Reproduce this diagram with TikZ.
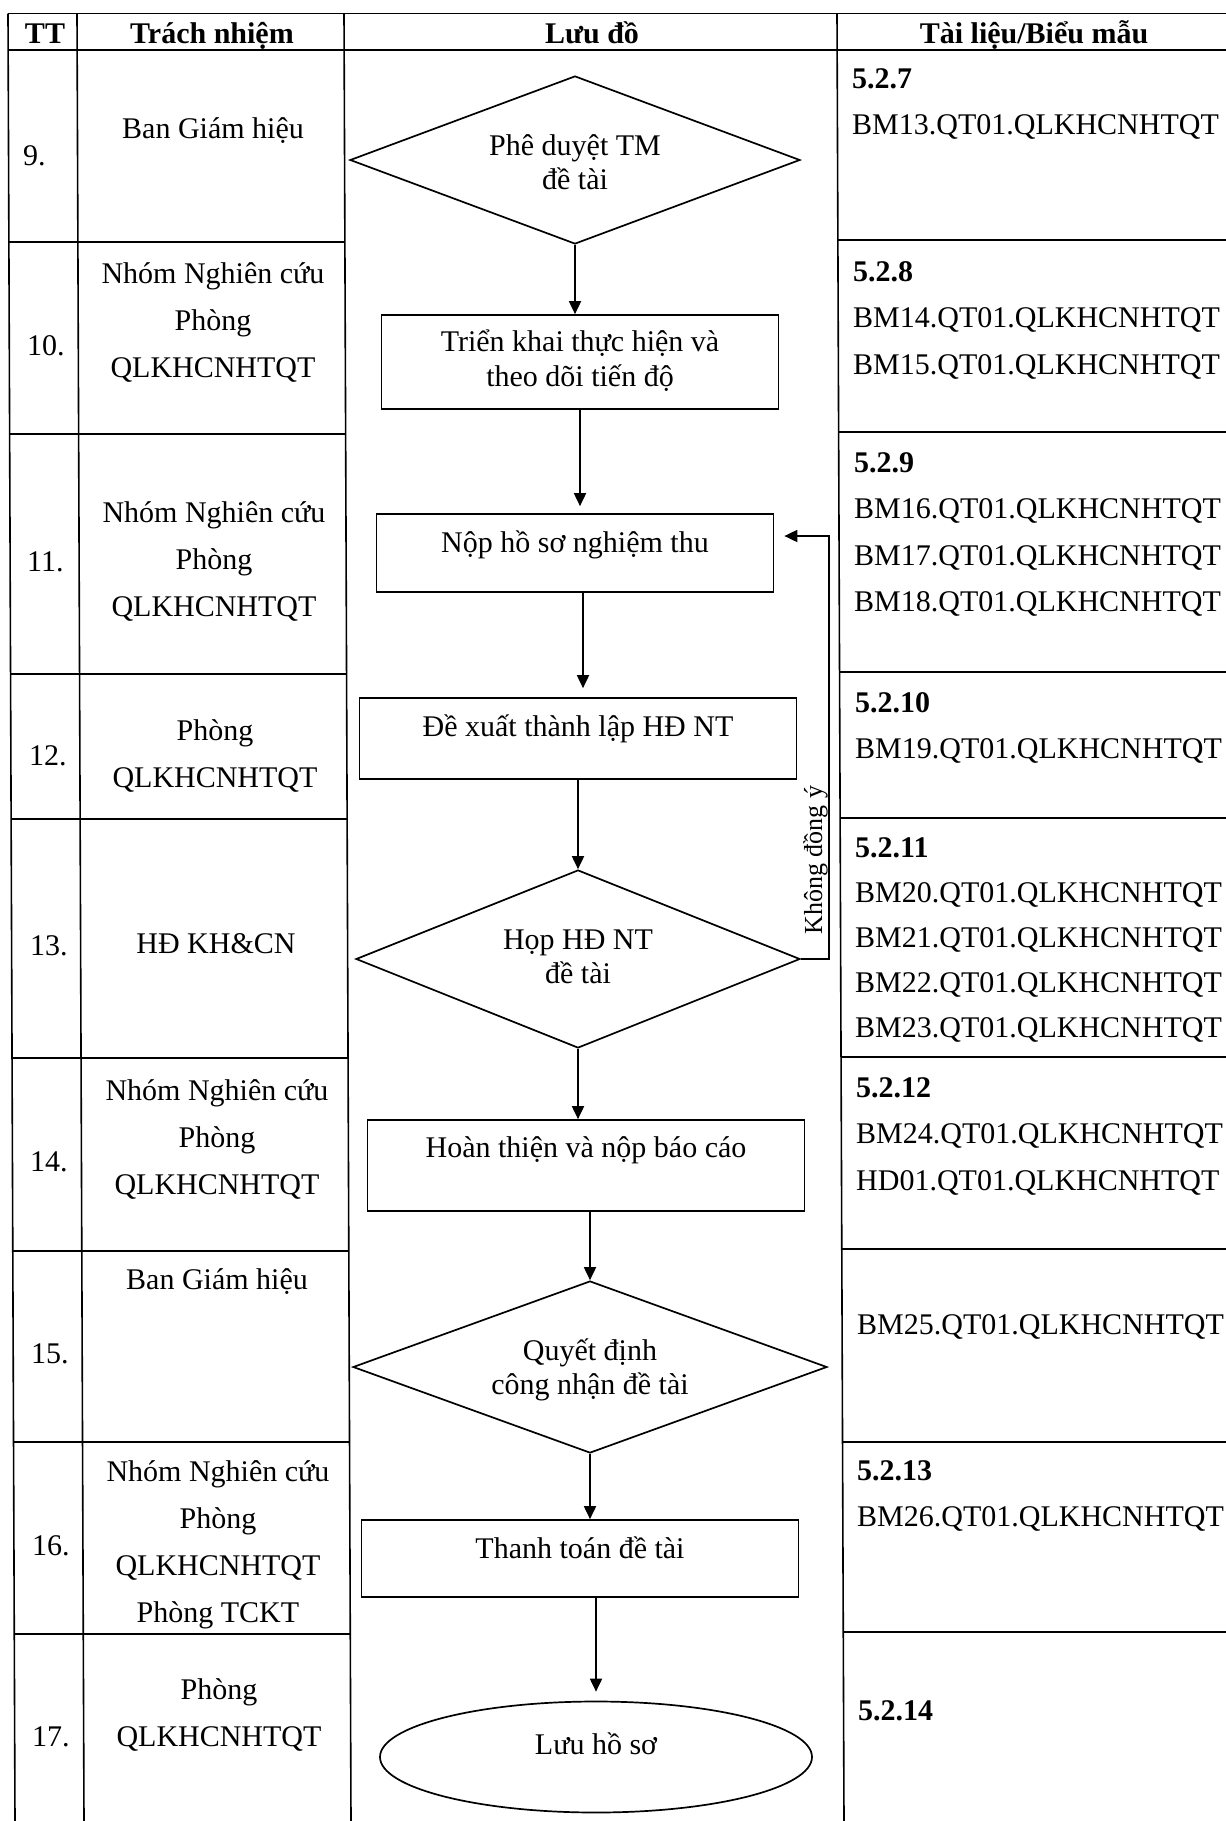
\documentclass[tikz,border=0pt]{standalone}
\usepackage{fontspec}
\setmainfont{Liberation Serif}
\usetikzlibrary{shapes.geometric,arrows.meta}
\newcommand\mlines[1]{\begin{tabular}[t]{@{}c@{}}#1\end{tabular}}
\newcommand\llines[1]{\begin{tabular}[t]{@{}l@{}}#1\end{tabular}}
\begin{document}
\begin{tikzpicture}[x=1pt,y=-1pt,
  every node/.style={font=\fontsize{30}{34}\selectfont, inner sep=0pt},
  grid/.style={line width=1.6pt, black},
  shp/.style={draw, line width=1.7pt, inner sep=0pt, text height=20pt},
  rbox/.style={shp, rectangle},
  dbox/.style={shp, diamond, aspect=2.7},
  ebox/.style={shp, ellipse},
  arr/.style={line width=1.8pt, -{Triangle[length=13pt,width=12pt]}},
  num/.style={anchor=base west},
  resp/.style={anchor=base, font=\fontsize{30}{47}\selectfont},
  doc/.style={anchor=base west, font=\fontsize{30}{46.5}\selectfont},
  hdr/.style={anchor=base, font=\fontsize{30}{34}\selectfont\bfseries},
]
\useasboundingbox (0,0) rectangle (1226,1821);
\fill[white] (0,0) rectangle (1226,1821);

% ---------- table grid ----------
\draw[grid] (8,13.5) -- (1226,13.5);
\draw[grid] (8,50) -- (1226,50);
\draw[grid] (8,13.5) -- (15,1821);
\draw[grid] (77,13.5) -- (84,1821);
\draw[grid] (344,13.5) -- (351,1821);
\draw[grid] (837,13.5) -- (844,1821);
\foreach \y/\a/\b in {242/8.9/344.9, 434/9.6/345.6, 674/10.6/346.6, 819/11.1/347.1,
  1058/12/348, 1251/12.8/348.8, 1442/13.5/349.5, 1634/14.3/350.3}
  \draw[grid] (\a,\y) -- (\b,\y);
\foreach \y/\a in {240/837.9, 432/838.6, 672/839.6, 818/840.1, 1057/841,
  1249/841.8, 1442/842.5, 1632/843.3}
  \draw[grid] (\a,\y) -- (1226,\y);

% ---------- headers ----------
\node[hdr] (hTT) at (45,43) {TT};
\node[hdr] (hTN) at (212,43) {Trách nhiệm};
\node[hdr] (hLD) at (592,43) {Lưu đồ};
\node[hdr] (hTL) at (1034,43) {Tài liệu/Biểu mẫu};

% ---------- TT column ----------
\node[num] (n9) at (23,165) {9.};
\node[num] (n10) at (27,355) {10.};
\node[num] (n11) at (27,571) {11.};
\node[num] (n12) at (29,765) {12.};
\node[num] (n13) at (30,955) {13.};
\node[num] (n14) at (30,1171) {14.};
\node[num] (n15) at (31,1363) {15.};
\node[num] (n16) at (32,1555) {16.};
\node[num] (n17) at (32,1746) {17.};

% ---------- responsibility column ----------
\node[resp] (r9) at (213,138) {Ban Giám hiệu};
\node[resp] (r10) at (213,283) {\mlines{Nhóm Nghiên cứu\\Phòng\\QLKHCNHTQT}};
\node[resp] (r11) at (214,522) {\mlines{Nhóm Nghiên cứu\\Phòng\\QLKHCNHTQT}};
\node[resp] (r12) at (215,740) {\mlines{Phòng\\QLKHCNHTQT}};
\node[resp] (r13) at (216,953) {HĐ KH\&CN};
\node[resp] (r14) at (217,1100) {\mlines{Nhóm Nghiên cứu\\Phòng\\QLKHCNHTQT}};
\node[resp] (r15) at (217,1289) {Ban Giám hiệu};
\node[resp] (r16) at (218,1481.5) {\mlines{Nhóm Nghiên cứu\\Phòng\\QLKHCNHTQT\\Phòng TCKT}};
\node[resp] (r17) at (219,1699) {\mlines{Phòng\\QLKHCNHTQT}};

% ---------- documents column ----------
\node[doc] (t9) at (852,88) {\llines{\textbf{5.2.7}\\BM13.QT01.QLKHCNHTQT}};
\node[doc] (t10) at (853,281) {\llines{\textbf{5.2.8}\\BM14.QT01.QLKHCNHTQT\\BM15.QT01.QLKHCNHTQT}};
\node[doc] (t11) at (854,472) {\llines{\textbf{5.2.9}\\BM16.QT01.QLKHCNHTQT\\BM17.QT01.QLKHCNHTQT\\BM18.QT01.QLKHCNHTQT}};
\node[doc] (t12) at (855,712) {\llines{\textbf{5.2.10}\\BM19.QT01.QLKHCNHTQT}};
\node[doc, font=\fontsize{30}{45}\selectfont] (t13) at (855,857) {\llines{\textbf{5.2.11}\\BM20.QT01.QLKHCNHTQT\\BM21.QT01.QLKHCNHTQT\\BM22.QT01.QLKHCNHTQT\\BM23.QT01.QLKHCNHTQT}};
\node[doc] (t14) at (856,1097) {\llines{\textbf{5.2.12}\\BM24.QT01.QLKHCNHTQT\\HD01.QT01.QLKHCNHTQT}};
\node[doc] (t15) at (857,1334) {BM25.QT01.QLKHCNHTQT};
\node[doc] (t16) at (857,1480) {\llines{\textbf{5.2.13}\\BM26.QT01.QLKHCNHTQT}};
\node[doc] (t17) at (858,1720) {\textbf{5.2.14}};

% ---------- flowchart ----------
\node[dbox, minimum width=450pt, minimum height=168pt, text depth=30pt] (d1) at (575,160) {\mlines{Phê duyệt TM\\đề tài}};
\node[rbox, minimum width=397pt, minimum height=94pt, text depth=40.6pt, font=\fontsize{30}{35}\selectfont] (b2) at (580,362) {\mlines{Triển khai thực hiện và\\theo dõi tiến độ}};
\node[rbox, minimum width=397pt, minimum height=78pt, text depth=20.6pt] (b3) at (575,553) {Nộp hồ sơ nghiệm thu};
\node[rbox, minimum width=437pt, minimum height=81pt, text depth=25pt] (b4) at (578,738.5) {Đề xuất thành lập HĐ NT};
\node[dbox, minimum width=444pt, minimum height=178pt, text depth=40pt] (d5) at (578,959) {\mlines{Họp HĐ NT\\đề tài}};
\node[rbox, minimum width=437pt, minimum height=91pt, text depth=37pt] (b6) at (586,1165.5) {Hoàn thiện và nộp báo cáo};
\node[dbox, minimum width=474pt, minimum height=172pt, text depth=34pt] (d7) at (590,1367) {\mlines{Quyết định\\công nhận đề tài}};
\node[rbox, minimum width=437pt, minimum height=77pt, text depth=20pt] (b8) at (580,1558.5) {Thanh toán đề tài};
\node[ebox, minimum width=432pt, minimum height=111pt, text depth=26pt] (e9) at (596,1757) {Lưu hồ sơ};

\draw[arr] (d1.south) -- (d1.south |- b2.north);
\draw[arr, shorten >=7pt] (b2.south) -- (b2.south |- b3.north);
\draw[arr, shorten >=9pt] ([xshift=8pt]b3.south) -- ([xshift=8pt]b3.south |- b4.north);
\draw[arr] (d5.north |- b4.south) -- (d5.north);
\draw[arr] (d5.south) -- (d5.south |- b6.north);
\draw[arr] (d7.north |- b6.south) -- (d7.north);
\draw[arr] (d7.south) -- (d7.south |- b8.north);
\draw[arr, shorten >=9pt] (e9.north |- b8.south) -- (e9.north);
\draw[arr] (d5.east) -- ++(28,0) |- ([xshift=10pt,yshift=17pt]b3.east);
\node[rotate=90, anchor=base, font=\fontsize{26}{30}\selectfont] (lbl) at (822,860) {Không đồng ý};
\end{tikzpicture}
\end{document}
